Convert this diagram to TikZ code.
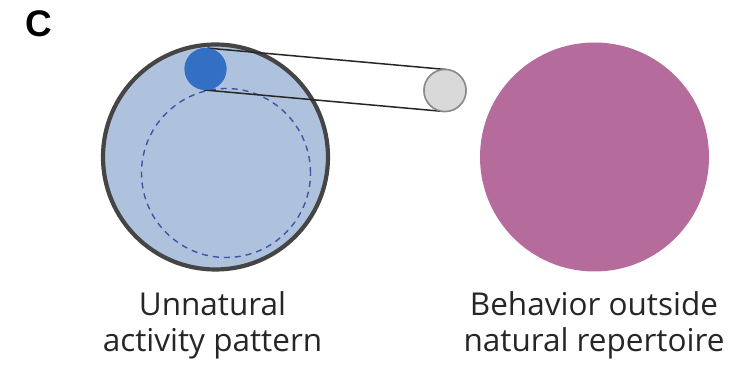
\documentclass[tikz,border=0pt]{standalone}
\usepackage{fontspec}
\setmainfont{Open Sans}
\newfontfamily\labfont{Liberation Sans}
\definecolor{bigfill}{HTML}{AEC2DE}
\definecolor{bigedge}{HTML}{454545}
\definecolor{dashblue}{HTML}{3F54A6}
\definecolor{dotblue}{HTML}{3370C4}
\definecolor{grayfill}{HTML}{D9D9D9}
\definecolor{grayedge}{HTML}{8A8A8A}
\definecolor{magenta}{HTML}{B56B9C}
\begin{document}
\begin{tikzpicture}[x=1pt,y=-1pt,
  disc/.style={circle,inner sep=0pt,outer sep=0pt},
  caption/.style={align=center,font=\fontsize{31.5}{36}\selectfont,text=black!85},
  tether/.style={draw=black!85,line width=1.5pt}]
\useasboundingbox (0,0) rectangle (731,371);
\node[anchor=base west,font=\labfont\bfseries\fontsize{37}{37}\selectfont] (lab) at (22,37) {C};
\node[disc,fill=bigfill,draw=bigedge,line width=4.2pt,minimum size=225pt] (big) at (215.5,157) {};
\node[disc,draw=dashblue,dashed,dash pattern=on 6pt off 5pt,line width=1.4pt,minimum size=169pt] (dash) at (226,173) {};
\node[disc,fill=grayfill,draw=grayedge,line width=1.5pt,minimum size=42pt] (gray) at (445,90.5) {};
\node[disc,fill=dotblue,minimum size=42pt] (dot) at (205.5,69) {};
\draw[tether] (dot.85) -- (gray.85);
\draw[tether] (dot.265) -- (gray.265);
\node[disc,fill=grayfill,draw=grayedge,line width=1.5pt,minimum size=42pt] at (gray) {};
\node[disc,fill=dotblue,minimum size=42pt] at (dot) {};
\node[disc,fill=magenta,minimum size=229pt] (mag) at (594.5,157) {};
\node[caption,anchor=base] (capl) at (212.5,352) {Unnatural\\activity pattern};
\node[caption,anchor=base] (capr) at (594,352) {Behavior outside\\natural repertoire};
\end{tikzpicture}
\end{document}
